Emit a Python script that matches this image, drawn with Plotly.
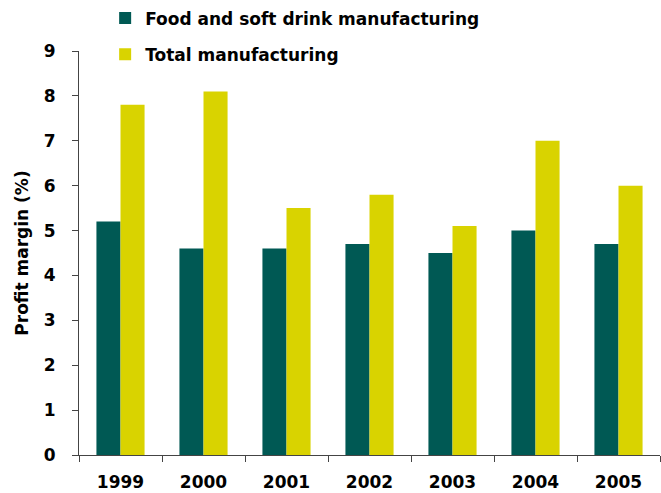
import plotly.graph_objects as go

years = ["1999", "2000", "2001", "2002", "2003", "2004", "2005"]
food_soft_drink = [5.2, 4.6, 4.6, 4.7, 4.5, 5.0, 4.7]
total_manufacturing = [7.8, 8.1, 5.5, 5.8, 5.1, 7.0, 6.0]

TEAL = "#005954"
YELLOW = "#D9D300"
FONT = "DejaVu Sans"
SIZE = 16

fig = go.Figure()
fig.add_trace(go.Bar(
    x=years, y=food_soft_drink, name="<b>Food and soft drink manufacturing</b>",
    marker=dict(color=TEAL, line=dict(width=0)), legendgroup="a",
))
fig.add_trace(go.Bar(
    x=years, y=total_manufacturing, name="<b>Total manufacturing</b>",
    marker=dict(color=YELLOW, line=dict(width=0)), legendgroup="b",
))

fig.update_layout(
    width=661, height=493,
    margin=dict(l=79, r=1, t=51, b=38, autoexpand=False),
    paper_bgcolor="white", plot_bgcolor="white",
    barmode="group", bargap=0.42, bargroupgap=0,
    font=dict(family=FONT, size=SIZE, color="black"),
    legend=dict(
        x=0.045, y=1.125, xanchor="left", yanchor="top",
        font=dict(size=17, family=FONT), traceorder="grouped",
        tracegroupgap=11, itemwidth=30, bgcolor="rgba(0,0,0,0)",
    ),
    showlegend=True,
)
fig.update_xaxes(
    type="category", tickson="boundaries", ticks="outside", ticklen=6,
    tickcolor="#444", showline=True, linecolor="#444", linewidth=1,
    tickfont=dict(size=17, family=FONT), tickangle=0, ticklabelstandoff=12,
    tickprefix="<b>", ticksuffix="</b>", showgrid=False,
)
fig.update_yaxes(
    range=[0, 9], dtick=1, ticks="outside", ticklen=6, tickcolor="#444",
    showline=True, linecolor="#444", linewidth=1, showgrid=False, zeroline=False,
    tickfont=dict(size=17, family=FONT), tickprefix="<b>", ticksuffix="</b>",
    ticklabelstandoff=13,
    title=dict(text="<b>Profit margin (%)</b>", font=dict(size=17, family=FONT), standoff=10),
)

fig.write_html("out.html")
